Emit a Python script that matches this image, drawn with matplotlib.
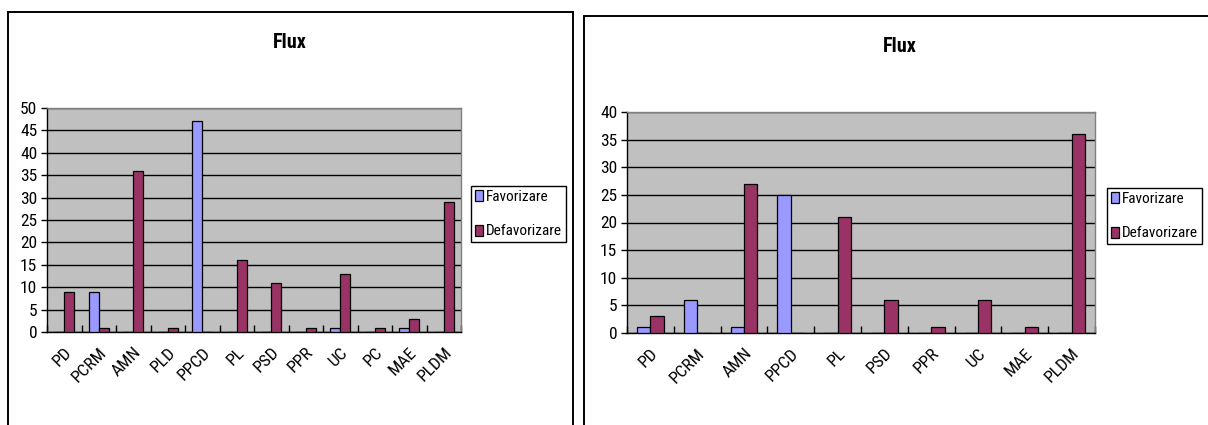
import matplotlib
matplotlib.use("Agg")
import matplotlib.pyplot as plt
from matplotlib.patches import Rectangle
import numpy as np

plt.rcParams['font.family'] = ['Liberation Sans Narrow', 'Noto Sans Condensed',
                               'Roboto Condensed', 'Liberation Sans', 'DejaVu Sans']

# ---- data -------------------------------------------------------------
cats_a = ['PD', 'PCRM', 'AMN', 'PLD', 'PPCD', 'PL', 'PSD', 'PPR', 'UC', 'PC', 'MAE', 'PLDM']
fav_a = [0, 9, 0, 0, 47, 0, 0, 0, 1, 0, 1, 0]
defav_a = [9, 1, 36, 1, 0, 16, 11, 1, 13, 1, 3, 29]

cats_b = ['PD', 'PCRM', 'AMN', 'PPCD', 'PL', 'PSD', 'PPR', 'UC', 'MAE', 'PLDM']
fav_b = [1, 6, 1, 25, 0, 0, 0, 0, 0, 0]
defav_b = [3, 0, 27, 0, 21, 6, 1, 6, 1, 36]

series_names = ['Favorizare', 'Defavorizare']
title = 'Flux'

# ---- styling ----------------------------------------------------------
C_FAV = '#9999FF'
C_DEF = '#993366'
C_PLOT = '#C0C0C0'

W, H = 1208, 425
DPI = 100
fig = plt.figure(figsize=(W / DPI, H / DPI), dpi=DPI)
renderer = fig.canvas.get_renderer()

# legend geometry (in font-size units) and the box it has to fit in
LEG = dict(handlelength=0.55, handleheight=0.75, handletextpad=0.2, borderpad=0.25)
LEG_WIDTH_PX = 98
LEG_HEIGHT_PX = 67


def legend_fontsize():
    """Largest font size (<= 11.5 pt) whose legend box fits LEG_WIDTH_PX."""
    probe = fig.text(0, 0, max(series_names, key=len), fontsize=10)
    text_w = probe.get_window_extent(renderer).width
    probe.remove()
    k = text_w / (10 * DPI / 72)
    units = 2 * LEG['borderpad'] + LEG['handlelength'] + LEG['handletextpad'] + k
    fs_px = (LEG_WIDTH_PX - 3) / units
    return min(11.5, fs_px * 72 / DPI)


LEG_FS = legend_fontsize()
_fs_px = LEG_FS * DPI / 72
# spread the two entries so the box reaches LEG_HEIGHT_PX
LEG['labelspacing'] = max(0.5, (LEG_HEIGHT_PX - 2 - 2 * 1.2 * _fs_px
                                - 2 * LEG['borderpad'] * _fs_px) / _fs_px)


def px_axes(x0, y0, x1, y1):
    """Axes from a pixel box measured from the top-left corner."""
    return fig.add_axes([x0 / W, 1 - y1 / H, (x1 - x0) / W, (y1 - y0) / H])


def frame(x0, y0, x1, y1):
    fig.patches.append(Rectangle((x0 / W, 1 - y1 / H), (x1 - x0) / W, (y1 - y0) / H,
                                 transform=fig.transFigure, fill=False,
                                 edgecolor='black', linewidth=1.4, zorder=0))


def column_chart(box, cats, fav, defav, ymax, legend_xy, title_xy):
    ax = px_axes(*box)
    n = len(cats)
    x = np.arange(n)
    w = 1 / 3.5  # gap width 150 %
    b1 = ax.bar(x - w / 2, fav, w, color=C_FAV, edgecolor='black', linewidth=0.9, zorder=3)
    b2 = ax.bar(x + w / 2, defav, w, color=C_DEF, edgecolor='black', linewidth=0.9, zorder=3)
    ax.set_facecolor(C_PLOT)
    ax.set_xlim(-0.5, n - 0.5)
    ax.set_ylim(0, ymax)
    ax.set_yticks(np.arange(0, ymax + 1, 5))
    ax.yaxis.grid(True, color='black', linewidth=1.0, zorder=1)
    ax.set_axisbelow(True)
    for s in ('top', 'right'):
        ax.spines[s].set_color('#808080')
        ax.spines[s].set_linewidth(1.0)
    for s in ('left', 'bottom'):
        ax.spines[s].set_color('black')
        ax.spines[s].set_linewidth(1.0)
    ax.tick_params(axis='y', direction='out', length=4, width=1, labelsize=12.5, pad=3)
    ax.set_xticks(x)
    ax.set_xticklabels(cats, rotation=45, ha='right', va='top', rotation_mode='anchor',
                       fontsize=12.5)
    ax.tick_params(axis='x', which='major', length=0, pad=9)
    ax.set_xticks(np.arange(-0.5, n, 1.0), minor=True)
    ax.tick_params(axis='x', which='minor', direction='in', length=5, width=1)

    leg = fig.legend(handles=[b1, b2], labels=series_names,
                     loc='upper left', bbox_to_anchor=(legend_xy[0] / W, 1 - legend_xy[1] / H),
                     bbox_transform=fig.transFigure, borderaxespad=0,
                     frameon=True, fancybox=False, edgecolor='black', framealpha=1,
                     fontsize=LEG_FS, **LEG)
    leg.get_frame().set_linewidth(1.0)
    fig.text(title_xy[0] / W, 1 - title_xy[1] / H, title, ha='center', va='center',
             fontsize=14.5, fontweight='bold')
    return ax


frame(8, 12, 573, 440)
frame(584, 16, 1230, 440)

column_chart((47, 108, 461, 332), cats_a, fav_a, defav_a, 50, (471, 186), (290, 42))
column_chart((627, 112, 1095, 333), cats_b, fav_b, defav_b, 40, (1107, 188), (900, 47))

fig.savefig('out.png', dpi=DPI)
